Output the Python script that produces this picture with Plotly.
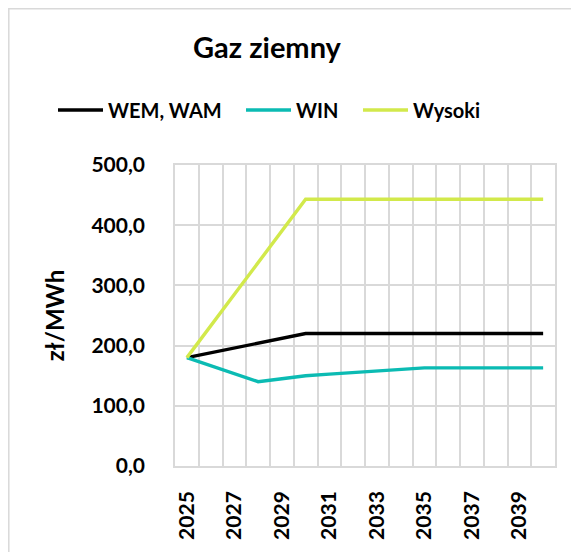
import plotly.graph_objects as go

years = list(range(2025, 2041))
wem_wam = [180, 188, 196, 204, 212, 220, 220, 220, 220, 220, 220, 220, 220, 220, 220, 220]
win = [180, 167, 153, 140, 145, 150, 152.6, 155.2, 157.8, 160.4, 163, 163, 163, 163, 163, 163]
wysoki = [180, 232.6, 285.2, 337.8, 390.4, 443, 443, 443, 443, 443, 443, 443, 443, 443, 443, 443]
series_names = ["WEM, WAM", "WIN", "Wysoki"]
colors = ["#000000", "#0BBBB3", "#D2E94B"]
tick_years = [2025, 2027, 2029, 2031, 2033, 2035, 2037, 2039]
y_ticks = [0, 100, 200, 300, 400, 500]
y_labels = ["0,0", "100,0", "200,0", "300,0", "400,0", "500,0"]

FONT = "Lato"
W, H = 571, 544
L, R, T, B = 167, 24, 157, 86
PW, PH = W - L - R, H - T - B

legend_ids = ["legend", "legend2", "legend3"]
legend_px = [45, 233, 350]  # left edge of each legend box, in figure pixels

fig = go.Figure()
for name, vals, col, lid in zip(series_names, [wem_wam, win, wysoki], colors, legend_ids):
    fig.add_trace(go.Scatter(x=years, y=vals, name=name, mode="lines", legend=lid,
                             line=dict(color=col, width=3.4)))

legend_common = dict(orientation="h", xanchor="left", yanchor="middle",
                     y=(H - B - 102) / PH, itemwidth=45,
                     font=dict(family=FONT, size=20, weight="bold"),
                     bgcolor="rgba(0,0,0,0)")
legends = {lid: dict(legend_common, x=(px - L) / PW) for lid, px in zip(legend_ids, legend_px)}

grid = "#D9D9D9"
fig.update_layout(
    width=W, height=H,
    margin=dict(l=L, r=R, t=T, b=B),
    paper_bgcolor="white", plot_bgcolor="white",
    font=dict(family=FONT, color="black", size=20, weight="bold"),
    title=dict(text="Gaz ziemny", x=259 / W, xanchor="center", y=1 - 40 / H, yanchor="middle",
               font=dict(family=FONT, size=29, weight="bold", color="black")),
    showlegend=True,
    xaxis=dict(range=[2024.5, 2040.5], tickvals=tick_years, tickangle=-90,
               showgrid=False, zeroline=False, ticks="", ticklabelstandoff=15,
               showline=True, linecolor=grid, linewidth=1.5, mirror=True,
               minor=dict(tick0=2024.5, dtick=1, showgrid=True, gridcolor=grid, gridwidth=1.5),
               tickfont=dict(family=FONT, size=21, weight="bold")),
    yaxis=dict(range=[0, 500], tickvals=y_ticks, ticktext=y_labels,
               showgrid=True, gridcolor=grid, gridwidth=1.5, zeroline=False,
               showline=True, linecolor=grid, linewidth=1.5, mirror=True,
               ticks="", ticklabelstandoff=24,
               title=dict(text="zł/MWh", standoff=20, font=dict(family=FONT, size=24, weight="bold")),
               tickfont=dict(family=FONT, size=21, weight="bold")),
    **legends,
)
fig.add_shape(type="rect", xref="paper", yref="paper",
              x0=(0.8 - L) / PW, x1=1.3, y0=-0.5, y1=(H - B - 0.8) / PH,
              line=dict(color="#D9D9D9", width=1.5), fillcolor="rgba(0,0,0,0)", layer="below")
fig.write_html("out.html")
